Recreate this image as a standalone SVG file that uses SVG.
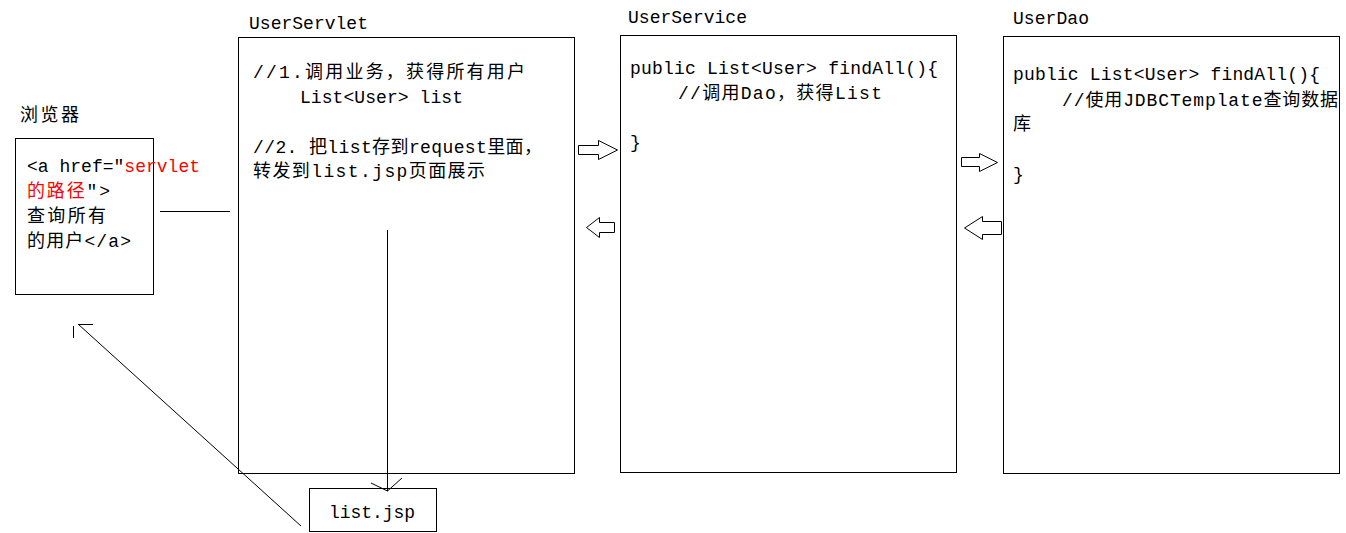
<svg xmlns="http://www.w3.org/2000/svg" width="1346" height="533" viewBox="0 0 1346 533">
<style>
  .box { fill: #ffffff; stroke: #000000; stroke-width: 1; }
  .t { font-family: "Liberation Mono", "Noto Sans CJK SC", monospace; font-size: 18px; fill: #000000; }
  .red { fill: #ff0000; }
  .ln { stroke: #000000; stroke-width: 1; fill: none; }
  .blk { fill: #ffffff; stroke: #000000; stroke-width: 1; stroke-linejoin: miter; }
</style>
<rect x="0" y="0" width="1346" height="533" fill="#ffffff"/>

<g id="browser">
  <text class="t" x="20" y="121" textLength="59" lengthAdjust="spacing">浏览器</text>
  <rect class="box" x="15.5" y="138.5" width="138" height="156"/>
  <text class="t" x="27" y="172" textLength="173" lengthAdjust="spacing">&lt;a href="<tspan class="red">servlet</tspan></text>
  <text class="t" x="27" y="197" textLength="83" lengthAdjust="spacing"><tspan class="red">的路径</tspan>"&gt;</text>
  <text class="t" x="27" y="222" textLength="79" lengthAdjust="spacing">查询所有</text>
  <text class="t" x="27" y="247" textLength="104" lengthAdjust="spacing">的用户&lt;/a&gt;</text>
</g>

<g id="userservlet">
  <text class="t" x="249" y="29" textLength="119" lengthAdjust="spacing">UserServlet</text>
  <rect class="box" x="238.5" y="37.5" width="336" height="436"/>
  <text class="t" x="253" y="78" textLength="272" lengthAdjust="spacing">//1.调用业务，获得所有用户</text>
  <text class="t" x="300" y="103" textLength="163" lengthAdjust="spacing">List&lt;User&gt; list</text>
  <text class="t" x="253" y="153" textLength="289" lengthAdjust="spacing">//2. 把list存到request里面，</text>
  <text class="t" x="253" y="177" textLength="232" lengthAdjust="spacing">转发到list.jsp页面展示</text>
</g>

<g id="userservice">
  <text class="t" x="628" y="23" textLength="119" lengthAdjust="spacing">UserService</text>
  <rect class="box" x="620.5" y="35.5" width="336" height="437"/>
  <text class="t" x="630" y="74" textLength="308" lengthAdjust="spacing">public List&lt;User&gt; findAll(){</text>
  <text class="t" x="678" y="99" textLength="204" lengthAdjust="spacing">//调用Dao，获得List</text>
  <text class="t" x="630" y="148">}</text>
</g>

<g id="userdao">
  <text class="t" x="1013" y="24" textLength="76" lengthAdjust="spacing">UserDao</text>
  <rect class="box" x="1003.5" y="36.5" width="336" height="437"/>
  <text class="t" x="1013" y="80" textLength="307" lengthAdjust="spacing">public List&lt;User&gt; findAll(){</text>
  <text class="t" x="1062" y="106" textLength="276" lengthAdjust="spacing">//使用JDBCTemplate查询数据</text>
  <text class="t" x="1013" y="130">库</text>
  <text class="t" x="1013" y="180">}</text>
</g>

<g id="listjsp">
  <rect class="box" x="309.5" y="488.5" width="127" height="43"/>
  <text class="t" x="329" y="518" textLength="86" lengthAdjust="spacing">list.jsp</text>
</g>

<g id="connectors">
  <line class="ln" x1="160" y1="211.5" x2="230" y2="211.5"/>
  <line class="ln" x1="387.5" y1="230" x2="387.5" y2="491"/>
  <polyline class="ln" points="371,483 387.5,491 402,478"/>
  <line class="ln" x1="301" y1="526" x2="78" y2="324"/>
  <line class="ln" x1="78" y1="324.5" x2="93" y2="324.5"/>
  <line class="ln" x1="73.5" y1="326" x2="73.5" y2="338"/>
  <polygon class="blk" points="578.5,145.5 598.5,145.5 598.5,140.5 617.5,150 598.5,159.5 598.5,154.5 578.5,154.5"/>
  <polygon class="blk" points="614.5,222.5 599.5,222.5 599.5,217.5 586.5,227.5 599.5,237.5 599.5,232.5 614.5,232.5"/>
  <polygon class="blk" points="961.5,157.5 979.5,157.5 979.5,153.5 997.5,162.5 979.5,171.5 979.5,166.5 961.5,166.5"/>
  <polygon class="blk" points="1001.5,221.5 982.5,221.5 982.5,216.5 964.5,228 982.5,239.5 982.5,234.5 1001.5,234.5"/>
</g>
</svg>
